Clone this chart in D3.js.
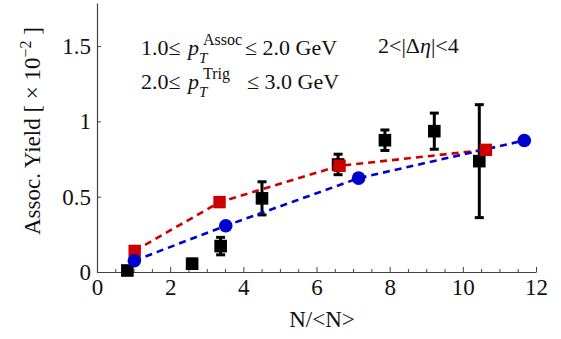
<!DOCTYPE html>
<html>
<head>
<meta charset="utf-8">
<script src="https://cdn.jsdelivr.net/npm/d3@7"></script>
<style>
  body { margin: 0; background: #fff; }
  text { font-family: 'Liberation Serif', 'DejaVu Serif', serif; fill: #111; }
</style>
</head>
<body>
<div id="chart"></div>
<script>
// data
const dataX = [0.83, 2.6, 3.38, 4.51, 6.59, 7.87, 9.22, 10.45];
const dataY = [0.01, 0.055, 0.172, 0.489, 0.714, 0.875, 0.935, 0.736];
const dataErr = [0.01, 0.03, 0.058, 0.11, 0.068, 0.068, 0.12, 0.375];

const redX = [1.03, 3.35, 6.63, 10.63];
const redY = [0.14, 0.464, 0.705, 0.811];

const blueX = [1.02, 3.52, 7.15, 11.68];
const blueY = [0.075, 0.307, 0.623, 0.873];

const xTicks = [0, 2, 4, 6, 8, 10, 12];
const yTicks = [0, 0.5, 1, 1.5];
const yTickLabels = ['0', '0.5', '1', '1.5'];

const width = 561;
const height = 339;
const margin = {top: 3, right: 25, bottom: 67, left: 97};

const svg = d3.select('#chart')
    .append('svg')
    .attr('width', width)
    .attr('height', height);

const x = d3.scaleLinear().domain([0, 12]).range([margin.left, width - margin.right]);
const y = d3.scaleLinear().domain([0, 1.786]).range([height - margin.bottom, margin.top]);

// minor x ticks
const minorTicks = d3.range(0, 12.01, 0.5).filter(d => d % 2 !== 0);
svg.append('g')
    .attr('transform', 'translate(0,' + y(0) + ')')
    .call(d3.axisBottom(x).tickValues(minorTicks).tickSize(-3).tickFormat(''))
    .call(g => g.select('.domain').remove())
    .selectAll('line').attr('stroke', '#444');

const xAxis = svg.append('g')
    .attr('transform', 'translate(0,' + y(0) + ')')
    .call(d3.axisBottom(x).tickValues(xTicks).tickSize(-5).tickSizeOuter(0).tickPadding(10));
xAxis.select('.domain').attr('stroke', '#444').attr('stroke-width', 1.2);
xAxis.selectAll('line').attr('stroke', '#444');
xAxis.selectAll('text').attr('font-size', 23).attr('dy', '0.71em')
    .attr('y', 7)
    .style('font-family', "'Liberation Serif', serif").attr('fill', '#111');

const yAxis = svg.append('g')
    .attr('transform', 'translate(' + x(0) + ',0)')
    .call(d3.axisLeft(y).tickValues(yTicks).tickSize(-4).tickSizeOuter(0).tickPadding(6)
        .tickFormat((d, i) => yTickLabels[i]));
yAxis.select('.domain').attr('stroke', '#444').attr('stroke-width', 1.2);
yAxis.selectAll('line').attr('stroke', '#444');
yAxis.selectAll('text').attr('font-size', 23)
    .style('font-family', "'Liberation Serif', serif").attr('fill', '#111');

// black points with error bars
const black = dataX.map((d, i) => ({x: d, y: dataY[i], e: dataErr[i]}));
const blk = svg.append('g');
black.forEach(p => {
  blk.append('line')
      .attr('x1', x(p.x)).attr('x2', x(p.x))
      .attr('y1', y(p.y - p.e)).attr('y2', y(p.y + p.e))
      .attr('stroke', '#000').attr('stroke-width', 3);
  [p.y - p.e, p.y + p.e].forEach(v => {
    blk.append('line')
        .attr('x1', x(p.x) - 4.5).attr('x2', x(p.x) + 4.5)
        .attr('y1', y(v)).attr('y2', y(v))
        .attr('stroke', '#000').attr('stroke-width', 3);
  });
  blk.append('rect')
      .attr('x', x(p.x) - 6.3).attr('y', y(p.y) - 6.3)
      .attr('width', 12.6).attr('height', 12.6)
      .attr('fill', '#000');
});

const line = d3.line().x(d => x(d[0])).y(d => y(d[1]));
const red = redX.map((d, i) => [d, redY[i]]);
const blue = blueX.map((d, i) => [d, blueY[i]]);

svg.append('path')
    .attr('d', line(red))
    .attr('fill', 'none')
    .attr('stroke', '#cc0000')
    .attr('stroke-width', 2.6)
    .attr('stroke-dasharray', '7,5');

svg.append('path')
    .attr('d', line(blue))
    .attr('fill', 'none')
    .attr('stroke', '#0000cc')
    .attr('stroke-width', 2.6)
    .attr('stroke-dasharray', '7,5');

svg.append('g').selectAll('rect')
    .data(red)
    .join('rect')
    .attr('x', d => x(d[0]) - 6.2)
    .attr('y', d => y(d[1]) - 6.2)
    .attr('width', 12.4)
    .attr('height', 12.4)
    .attr('fill', '#cc0000');

svg.append('g').selectAll('circle')
    .data(blue)
    .join('circle')
    .attr('cx', d => x(d[0]))
    .attr('cy', d => y(d[1]))
    .attr('r', 6.8)
    .attr('fill', '#0000cc');

// axis titles
svg.append('text')
    .attr('x', 322)
    .attr('y', 327)
    .attr('text-anchor', 'middle')
    .attr('font-size', 23)
    .text('N/<N>');

const yl = svg.append('text')
    .attr('transform', 'translate(40,131) rotate(-90)')
    .attr('text-anchor', 'middle')
    .attr('font-size', 23);
yl.append('tspan').text('Assoc. Yield [ × 10');
yl.append('tspan').attr('dy', -9).attr('font-size', 16).text('−2');
yl.append('tspan').attr('dy', 9).text(' ]');

// annotations
function ptLabel(lo, sup, hi, base, supX, hiX) {
  const g = svg.append('g');
  g.append('text').attr('x', 141).attr('y', base).attr('font-size', 22).text(lo);
  g.append('text').attr('x', 188).attr('y', base).attr('font-size', 22)
      .attr('font-style', 'italic').text('p');
  g.append('text').attr('x', 199).attr('y', base + 8).attr('font-size', 15)
      .attr('font-style', 'italic').text('T');
  g.append('text').attr('x', supX).attr('y', base - 10).attr('font-size', 16).text(sup);
  g.append('text').attr('x', hiX).attr('y', base).attr('font-size', 22).text(hi);
}
ptLabel('1.0≤', 'Assoc', '≤ 2.0 GeV', 55, 203, 245);
ptLabel('2.0≤', 'Trig', '≤ 3.0 GeV', 89, 203, 247);

const eta = svg.append('text')
    .attr('x', 378)
    .attr('y', 53)
    .attr('font-size', 22);
eta.append('tspan').text('2<|Δ');
eta.append('tspan').attr('font-style', 'italic').text('η');
eta.append('tspan').text('|<4');
</script>
</body>
</html>
